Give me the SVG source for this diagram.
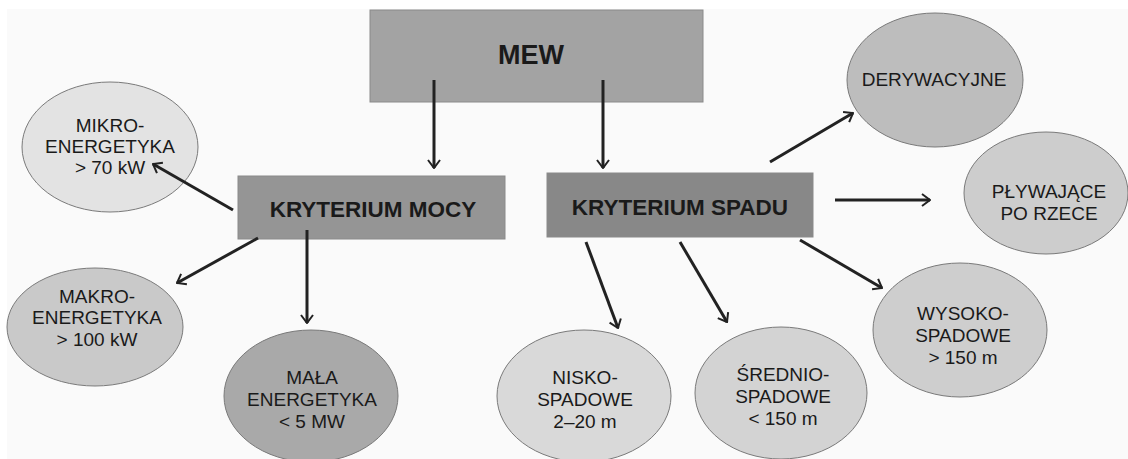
<svg xmlns="http://www.w3.org/2000/svg" width="1128" height="459" viewBox="0 0 1128 459">
<defs>
<style>
.lbl{font-family:"Liberation Sans",Arial,sans-serif;font-size:19px;fill:#1a1a1a;text-anchor:middle}
.hdr{font-family:"Liberation Sans",Arial,sans-serif;font-weight:bold;fill:#1a1a1a;text-anchor:middle}
.ell{stroke:#7a7a7a;stroke-width:1}
.box{stroke:#8a8a8a;stroke-width:1}
.con{stroke:#222;stroke-width:3;fill:none;marker-end:url(#ah)}
</style>
<marker id="ah" viewBox="0 0 10 14" refX="9" refY="7" markerWidth="10" markerHeight="14" markerUnits="userSpaceOnUse" orient="auto">
<path d="M1,1 L9,7 L1,13" fill="none" stroke="#222" stroke-width="2"/>
</marker>
</defs>
<rect x="0" y="0" width="1128" height="459" fill="#ffffff"/>
<rect x="7" y="9" width="1121" height="450" fill="#fafafa"/>

<g id="node-mew">
<rect class="box" x="370" y="10" width="333" height="92" fill="#a3a3a3"/>
<text class="hdr" x="531" y="64" font-size="27">MEW</text>
</g>
<g id="node-kryterium-mocy">
<rect class="box" x="238" y="176" width="267" height="63" fill="#959595"/>
<text class="hdr" x="373" y="217" font-size="22.5">KRYTERIUM MOCY</text>
</g>
<g id="node-kryterium-spadu">
<rect class="box" x="547" y="173" width="266" height="64" fill="#888888"/>
<text class="hdr" x="680" y="215" font-size="22.5">KRYTERIUM SPADU</text>
</g>

<g id="node-mikro">
<ellipse class="ell" cx="110" cy="147" rx="88" ry="65" fill="#e3e3e3"/>
<text class="lbl" x="110" y="132">MIKRO-</text>
<text class="lbl" x="110" y="153">ENERGETYKA</text>
<text class="lbl" x="110" y="174">&gt; 70 kW</text>
</g>
<g id="node-makro">
<ellipse class="ell" cx="95" cy="327" rx="88" ry="59" fill="#c9c9c9"/>
<text class="lbl" x="97" y="303">MAKRO-</text>
<text class="lbl" x="97" y="324">ENERGETYKA</text>
<text class="lbl" x="97" y="346">&gt; 100 kW</text>
</g>
<g id="node-mala">
<ellipse class="ell" cx="311" cy="396" rx="87" ry="66" fill="#a9a9a9"/>
<text class="lbl" x="312" y="384">MAŁA</text>
<text class="lbl" x="312" y="406">ENERGETYKA</text>
<text class="lbl" x="312" y="428">&lt; 5 MW</text>
</g>
<g id="node-nisko">
<ellipse class="ell" cx="584" cy="396" rx="87" ry="66" fill="#d9d9d9"/>
<text class="lbl" x="585" y="384">NISKO-</text>
<text class="lbl" x="585" y="406">SPADOWE</text>
<text class="lbl" x="585" y="428">2–20 m</text>
</g>
<g id="node-srednio">
<ellipse class="ell" cx="781" cy="393" rx="86" ry="66" fill="#d3d3d3"/>
<text class="lbl" x="783" y="381">ŚREDNIO-</text>
<text class="lbl" x="783" y="403">SPADOWE</text>
<text class="lbl" x="783" y="425">&lt; 150 m</text>
</g>
<g id="node-wysoko">
<ellipse class="ell" cx="960" cy="330" rx="87" ry="67" fill="#cecece"/>
<text class="lbl" x="963" y="320">WYSOKO-</text>
<text class="lbl" x="963" y="342">SPADOWE</text>
<text class="lbl" x="963" y="364">&gt; 150 m</text>
</g>
<g id="node-derywacyjne">
<ellipse class="ell" cx="935" cy="80" rx="88" ry="67" fill="#bdbdbd"/>
<text class="lbl" x="934" y="86" font-size="20">DERYWACYJNE</text>
</g>
<g id="node-plywajace">
<ellipse class="ell" cx="1046" cy="193" rx="82" ry="61" fill="#cdcdcd"/>
<text class="lbl" x="1049" y="198">PŁYWAJĄCE</text>
<text class="lbl" x="1049" y="220">PO RZECE</text>
</g>

<g id="connectors">
<line class="con" x1="434" y1="80" x2="434" y2="168"/>
<line class="con" x1="603" y1="80" x2="603" y2="168"/>
<line class="con" x1="233" y1="210" x2="153" y2="164"/>
<line class="con" x1="258" y1="238" x2="177" y2="283"/>
<line class="con" x1="307" y1="230" x2="307" y2="323"/>
<line class="con" x1="586" y1="242" x2="618" y2="328"/>
<line class="con" x1="680" y1="242" x2="727" y2="322"/>
<line class="con" x1="800" y1="240" x2="882" y2="288"/>
<line class="con" x1="770" y1="162" x2="853" y2="113"/>
<line class="con" x1="835" y1="200" x2="930" y2="200"/>
</g>
</svg>
